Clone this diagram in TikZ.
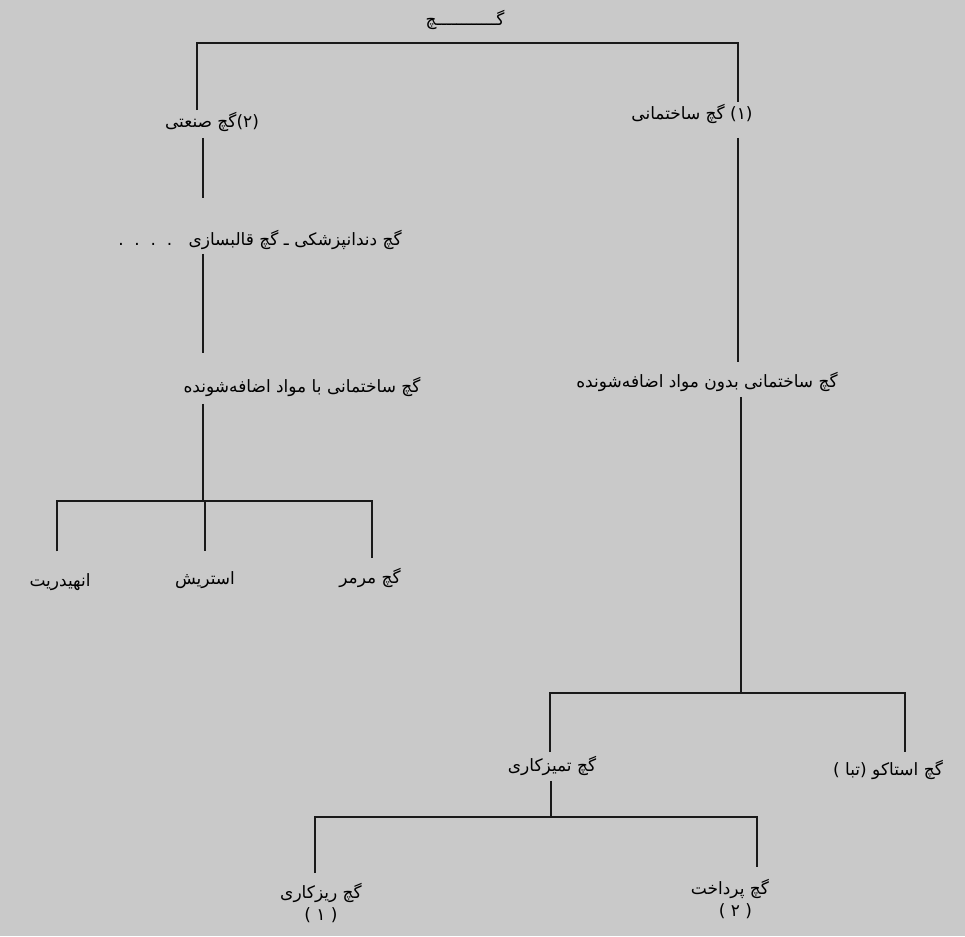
\documentclass[tikz,border=0pt]{standalone}
\usepackage{fontspec}
\newfontfamily\fa[Script=Arabic]{DejaVu Sans}
\TeXXeTstate=1
\definecolor{scan}{RGB}{201,201,201}
\newcommand{\rl}[1]{\beginR #1\endR}

\begin{document}
\begin{tikzpicture}[x=1pt, y=-1pt,
    lbl/.style={font=\fa\fontsize{17}{22}\selectfont, inner sep=2pt, align=center},
    link/.style={line width=1.4pt, black!90}
  ]
    \fill[scan] (0,0) rectangle (965,936);
    \useasboundingbox (0,0) rectangle (965,936);

    % top level
    \node[lbl] (gypsum) at (465,20) {\rl{گــــــــــــچ}};
    \node[lbl] (indus) at (212,122) {\rl{(۲)گچ صنعتی}};
    \node[lbl] (build) at (692,114) {\rl{(۱) گچ ساختمانی}};
    \coordinate (topL) at (197,43);
    \coordinate (topR) at (738,43);
    \draw[link] (indus.north -| topL) -- (topL) -- (topR) -- (build.north -| topR);

    % left branch
    \node[lbl] (dental) at (260,240) {\rl{گچ دندانپزشکی ـ گچ قالبسازی \ \ .\ \ .\ \ .\ \ .}};
    \node[lbl] (withadd) at (302,387) {\rl{گچ ساختمانی با مواد اضافه‌شونده}};
    \coordinate (lstem) at (203,0);
    \draw[link, shorten <=4pt, shorten >=30pt] (indus.south -| lstem) -- (dental.north -| lstem);
    \draw[link, shorten <=2pt, shorten >=22pt] (dental.south -| lstem) -- (withadd.north -| lstem);

    \node[lbl] (anhyd) at (60,582) {\rl{انهیدریت}};
    \node[lbl] (estrich) at (205,580) {\rl{استریش}};
    \node[lbl] (marble) at (370,578) {\rl{گچ مرمر}};
    \coordinate (barA) at (0,501);
    \coordinate (barAL) at (57,501);
    \coordinate (barAR) at (372,501);
    \draw[link, shorten <=5pt] (withadd.south -| lstem) -- (barA -| lstem);
    \draw[link, shorten <=20pt, shorten >=8pt] (anhyd.north -| barAL) -- (barAL) -- (barAR) -- (marble.north -| barAR);
    \draw[link, shorten >=18pt] (barA -| estrich) -- (estrich.north);

    % right branch
    \node[lbl] (noadd) at (707,382) {\rl{گچ ساختمانی بدون مواد اضافه‌شونده}};
    \draw[link, shorten <=12pt, shorten >=8pt] (build.south -| topR) -- (noadd.north -| topR);

    \node[lbl] (clean) at (552,766) {\rl{گچ تمیزکاری}};
    \node[lbl] (stucco) at (888,770) {\rl{گچ استاکو (تبا )}};
    \coordinate (barB) at (0,693);
    \coordinate (barBL) at (550,693);
    \coordinate (barBR) at (905,693);
    \coordinate (rstem) at (741,0);
    \draw[link, shorten <=3pt] (noadd.south -| rstem) -- (barB -| rstem);
    \draw[link, shorten <=2pt, shorten >=6pt] (clean.north -| barBL) -- (barBL) -- (barBR) -- (stucco.north -| barBR);

    \node[lbl] (fine) at (321,903) {\rl{گچ ریزکاری}\\\rl{( ۱ )}};
    \node[lbl] (finish) at (730,899) {\rl{گچ پرداخت}\\\rl{( ۲ )\ \ }};
    \coordinate (barC) at (0,817);
    \coordinate (barCL) at (315,817);
    \coordinate (barCR) at (757,817);
    \coordinate (cstem) at (551,0);
    \draw[link, shorten <=3pt] (clean.south -| cstem) -- (barC -| cstem);
    \draw[link, shorten <=8pt, shorten >=10pt] (fine.north -| barCL) -- (barCL) -- (barCR) -- (finish.north -| barCR);
\end{tikzpicture}
\end{document}
